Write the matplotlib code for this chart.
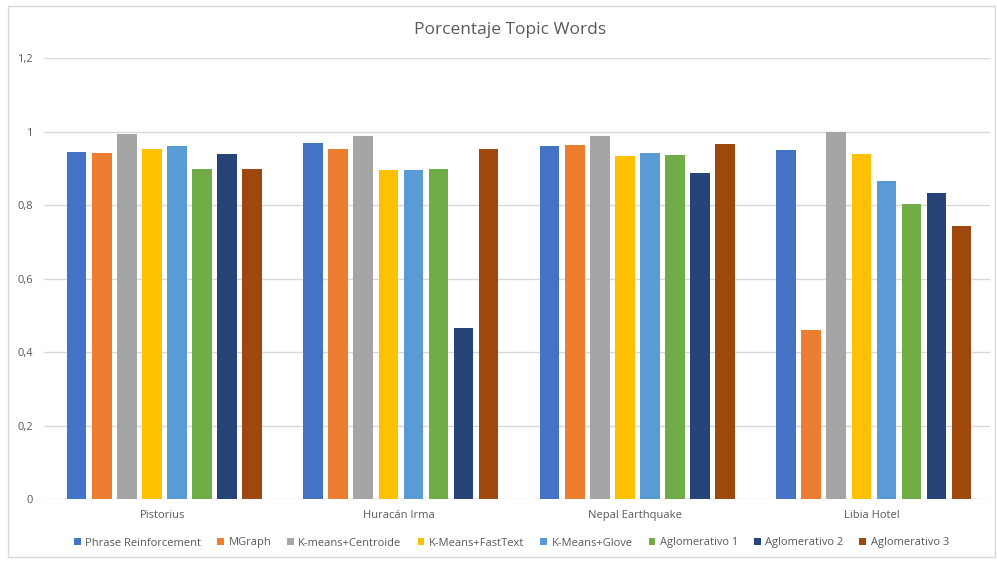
import numpy as np
import matplotlib.pyplot as plt
from matplotlib.ticker import FuncFormatter
from matplotlib.patches import Rectangle

plt.rcParams['font.family'] = ['Open Sans', 'DejaVu Sans']

# datos
categorias = ['Pistorius', 'Huracán Irma', 'Nepal Earthquake', 'Libia Hotel']
metodos = ['Phrase Reinforcement', 'MGraph', 'K-means+Centroide', 'K-Means+FastText',
           'K-Means+Glove', 'Aglomerativo 1', 'Aglomerativo 2', 'Aglomerativo 3']
phrase = [0.944, 0.968, 0.960, 0.950]
mgraph = [0.941, 0.952, 0.963, 0.461]
centroide = [0.993, 0.988, 0.988, 1.000]
fasttext = [0.952, 0.894, 0.933, 0.938]
glove = [0.960, 0.894, 0.941, 0.866]
aglo1 = [0.899, 0.899, 0.935, 0.802]
aglo2 = [0.939, 0.464, 0.886, 0.834]
aglo3 = [0.899, 0.952, 0.965, 0.742]
colores = ['#4472C4', '#ED7D31', '#A5A5A5', '#FFC000',
           '#5B9BD5', '#70AD47', '#264478', '#9E480E']

series = [phrase, mgraph, centroide, fasttext, glove, aglo1, aglo2, aglo3]

fig = plt.figure(figsize=(9.97, 5.63), dpi=100)
ax = fig.add_axes([44/997, 1-499/563, 946/997, 441/563])

x = np.arange(len(categorias))
paso = 0.106
ancho = 0.083
for i, (vals, col) in enumerate(zip(series, colores)):
    ax.bar(x + (i - 3.5) * paso + 0.009, vals, width=ancho, color=col,
           label=metodos[i], zorder=3)

ax.set_xlim(-0.5, 3.5)
ax.set_ylim(0, 1.2)
ax.set_yticks(np.arange(0, 1.21, 0.2))
ax.yaxis.set_major_formatter(FuncFormatter(
    lambda v, p: '0' if abs(v) < 1e-9 else ('1' if abs(v - 1) < 1e-9 else f'{v:.1f}'.replace('.', ','))))
ax.grid(axis='y', color='#D9D9D9', linewidth=1, zorder=0)
for s in ax.spines.values():
    s.set_visible(False)
ax.tick_params(axis='both', length=0, labelsize=8, colors='#595959')
ax.tick_params(axis='y', pad=8)
ax.tick_params(axis='x', pad=8)
ax.set_xticks(x)
ax.set_xticklabels(categorias)

fig.text(0.512, 1-30/563, 'Porcentaje Topic Words', ha='center', va='center',
         fontsize=12.5, color='#595959')

fig.legend(loc='center', bbox_to_anchor=(0.513, 1-543/563), ncol=8, frameon=False,
           fontsize=8, labelcolor='#595959', handlelength=0.6, handleheight=0.6,
           handletextpad=0.4, columnspacing=1.45)

# borde del area del grafico
fig.patches.append(Rectangle((8/997, 6/563), 987/997, 551/563, transform=fig.transFigure,
                             fill=False, edgecolor='#D9D9D9', linewidth=1))

fig.savefig('out.png', dpi=100)
